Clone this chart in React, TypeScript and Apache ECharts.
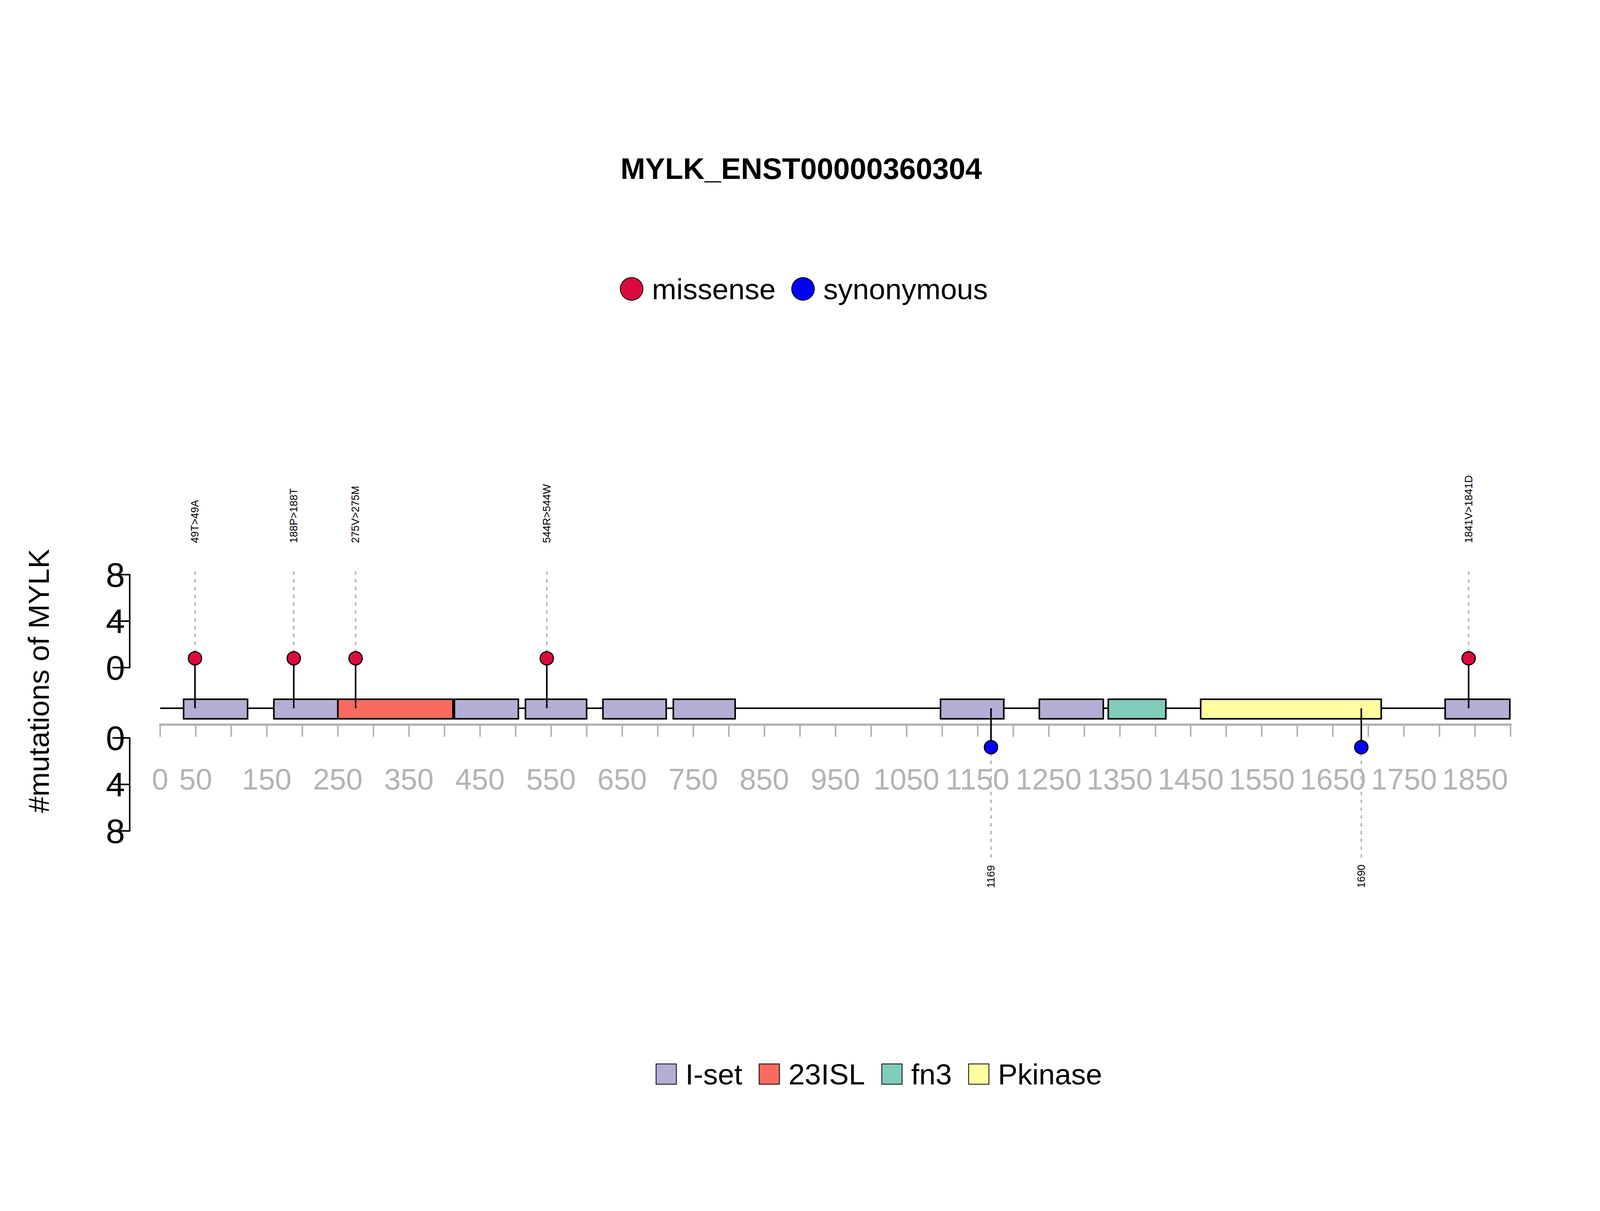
import React, { useEffect, useRef } from "react";
import * as echarts from "echarts";

const title = "MYLK_ENST00000360304";
const yAxisTitle = "#mutations of MYLK";
const domainTypes = ["I-set", "23ISL", "fn3", "Pkinase"];
const domainColors = ["#B3AED3", "#F96B60", "#80CDBB", "#FFFFA0"];
const domains: [number, number, string][] = [
  [33, 123, "I-set"], [160, 250, "I-set"], [250, 412, "23ISL"], [414, 504, "I-set"],
  [514, 600, "I-set"], [623, 712, "I-set"], [722, 809, "I-set"], [1098, 1187, "I-set"],
  [1237, 1327, "I-set"], [1334, 1415, "fn3"], [1464, 1718, "Pkinase"], [1808, 1899, "I-set"],
];
const missensePos = [49, 188, 275, 544, 1841];
const missenseLabels = ["49T>49A", "188P>188T", "275V>275M", "544R>544W", "1841V>1841D"];
const missenseHeight = [0.8, 0.8, 0.8, 0.8, 0.8];
const synPos = [1169, 1690];
const synLabels = ["1169", "1690"];
const synHeight = [0.8, 0.8];
const proteinLength = 1900;

const FONT = "Liberation Sans, Arial, sans-serif";
const ZERO_UP = 1709;

export default function App() {
  const ref = useRef<HTMLDivElement>(null);
  useEffect(() => {
    const chart = echarts.init(ref.current!, null, { renderer: "svg" });
    const xBase = {
      type: "value", min: 0, max: proteinLength, interval: 50,
      splitLine: { show: false },
    };
    const yBase = {
      type: "value", min: 0, max: 8, interval: 2, offset: 78,
      axisLine: { show: true, onZero: false, lineStyle: { color: "#000", width: 4 } },
      axisTick: { show: true, length: 44, lineStyle: { color: "#000", width: 4 } },
      axisLabel: { color: "#000", fontSize: 88, fontFamily: FONT, margin: 12, showMinLabel: true, showMaxLabel: true, hideOverlap: false },
      splitLine: { show: false },
    };
    const domainSeries = domainTypes.map((t, ti) => ({
      type: "custom", name: t, xAxisIndex: 0, yAxisIndex: 0, clip: false, z: 3,
      itemStyle: { color: domainColors[ti], borderColor: "#000", borderWidth: 4 },
      data: domains.filter((d) => d[2] === t).map((d) => [d[0], d[1]]),
      renderItem: (params: any, api: any) => {
        const a = api.coord([api.value(0), 0]);
        const b = api.coord([api.value(1), 0]);
        return {
          type: "rect",
          shape: { x: a[0], y: a[1] + 81, width: b[0] - a[0], height: 50 },
          style: { fill: domainColors[ti], stroke: "#000", lineWidth: 4 },
        };
      },
    }));
    const stickSeries = (pos: number[], h: number[], labels: string[], idx: number, down: boolean) => ({
      type: "custom", xAxisIndex: idx, yAxisIndex: idx, clip: false, z: 4, silent: true,
      data: pos.map((p, i) => [p, h[i]]),
      renderItem: (params: any, api: any) => {
        const pt = api.coord([api.value(0), api.value(1)]);
        const x = pt[0];
        const backbone = down ? 1813 : ZERO_UP + 104;
        const children: any[] = [
          { type: "line", shape: { x1: x, y1: backbone, x2: x, y2: pt[1] }, style: { stroke: "#000", lineWidth: 4 } },
        ];
        if (!down) {
          children.push({ type: "line", shape: { x1: x, y1: pt[1] - 14, x2: x, y2: 1463 }, style: { stroke: "#b5b5b5", lineWidth: 4, lineDash: [9, 11] } });
          children.push({ type: "text", x: x, y: 1390, rotation: Math.PI / 2, style: { text: labels[params.dataIndex], fontSize: 27, fontFamily: FONT, fill: "#000", align: "left", verticalAlign: "middle" } });
        } else {
          children.push({ type: "line", shape: { x1: x, y1: pt[1] + 14, x2: x, y2: 2195 }, style: { stroke: "#b5b5b5", lineWidth: 4, lineDash: [9, 11] } });
          children.push({ type: "text", x: x, y: 2273, rotation: Math.PI / 2, style: { text: labels[params.dataIndex], fontSize: 27, fontFamily: FONT, fill: "#000", align: "left", verticalAlign: "middle" } });
        }
        return { type: "group", children };
      },
    });
    chart.setOption({
      animation: false,
      backgroundColor: "#fff",
      title: {
        text: title, left: 2046, top: 426, textAlign: "center", textVerticalAlign: "middle",
        textStyle: { fontSize: 76, fontWeight: "bold", fontFamily: FONT, color: "#000" },
      },
      graphic: [
        { type: "text", x: 99, y: 1743, rotation: Math.PI / 2,
          style: { text: yAxisTitle, fontSize: 75, fontFamily: FONT, fill: "#000", align: "center", verticalAlign: "middle" } },
      ],
      legend: [
        {
          data: ["missense", "synonymous"], top: 697, left: 2142 - 560, itemGap: 40,
          itemWidth: 58, itemHeight: 58, icon: "circle",
          textStyle: { fontSize: 75, fontFamily: FONT, color: "#000", padding: [0, 0, 0, 18] },
        },
        {
          data: domainTypes, top: 2707, left: "center", itemGap: 42,
          itemWidth: 52, itemHeight: 52, icon: "rect",
          textStyle: { fontSize: 75, fontFamily: FONT, color: "#000", padding: [0, 0, 0, 18] },
        },
      ],
      grid: [
        { left: 410, width: 3457, top: 1471, height: 238 },
        { left: 410, width: 3457, top: 1889, height: 238 },
      ],
      xAxis: [
        {
          ...xBase, gridIndex: 0, position: "bottom", offset: 146,
          axisLine: { show: true, onZero: false, lineStyle: { color: "#b3b3b3", width: 6 } },
          axisTick: { show: true, length: 31, lineStyle: { color: "#b3b3b3", width: 4 } },
          axisLabel: {
            color: "#b3b3b3", fontSize: 76, fontFamily: FONT, margin: 101,
            showMinLabel: true, showMaxLabel: true, hideOverlap: false,
            formatter: (v: number) => (v === 0 || v % 100 === 50 ? String(v) : ""),
          },
        },
        { ...xBase, gridIndex: 1, show: false },
      ],
      yAxis: [
        { ...yBase, gridIndex: 0 },
        { ...yBase, gridIndex: 1, inverse: true },
      ],
      series: [
        {
          type: "custom", xAxisIndex: 0, yAxisIndex: 0, clip: false, z: 2, silent: true,
          data: [[0, proteinLength]],
          renderItem: (params: any, api: any) => {
            const a = api.coord([api.value(0), 0]);
            const b = api.coord([api.value(1), 0]);
            return { type: "line", shape: { x1: a[0], y1: a[1] + 104, x2: b[0], y2: a[1] + 104 }, style: { stroke: "#000", lineWidth: 4 } };
          },
        },
        ...domainSeries,
        stickSeries(missensePos, missenseHeight, missenseLabels, 0, false),
        stickSeries(synPos, synHeight, synLabels, 1, true),
        {
          type: "scatter", name: "missense", xAxisIndex: 0, yAxisIndex: 0, z: 5, clip: false,
          symbolSize: 34, itemStyle: { color: "#DC0A3C", borderColor: "#000", borderWidth: 3, opacity: 1 },
          data: missensePos.map((p, i) => [p, missenseHeight[i]]),
        },
        {
          type: "scatter", name: "synonymous", xAxisIndex: 1, yAxisIndex: 1, z: 5, clip: false,
          symbolSize: 34, itemStyle: { color: "#0000FF", borderColor: "#000", borderWidth: 3, opacity: 1 },
          data: synPos.map((p, i) => [p, synHeight[i]]),
        },
      ],
    });
    return () => chart.dispose();
  }, []);
  return <div ref={ref} style={{ position: "absolute", left: 0, top: 0, width: 4500, height: 3100 }} />;
}
